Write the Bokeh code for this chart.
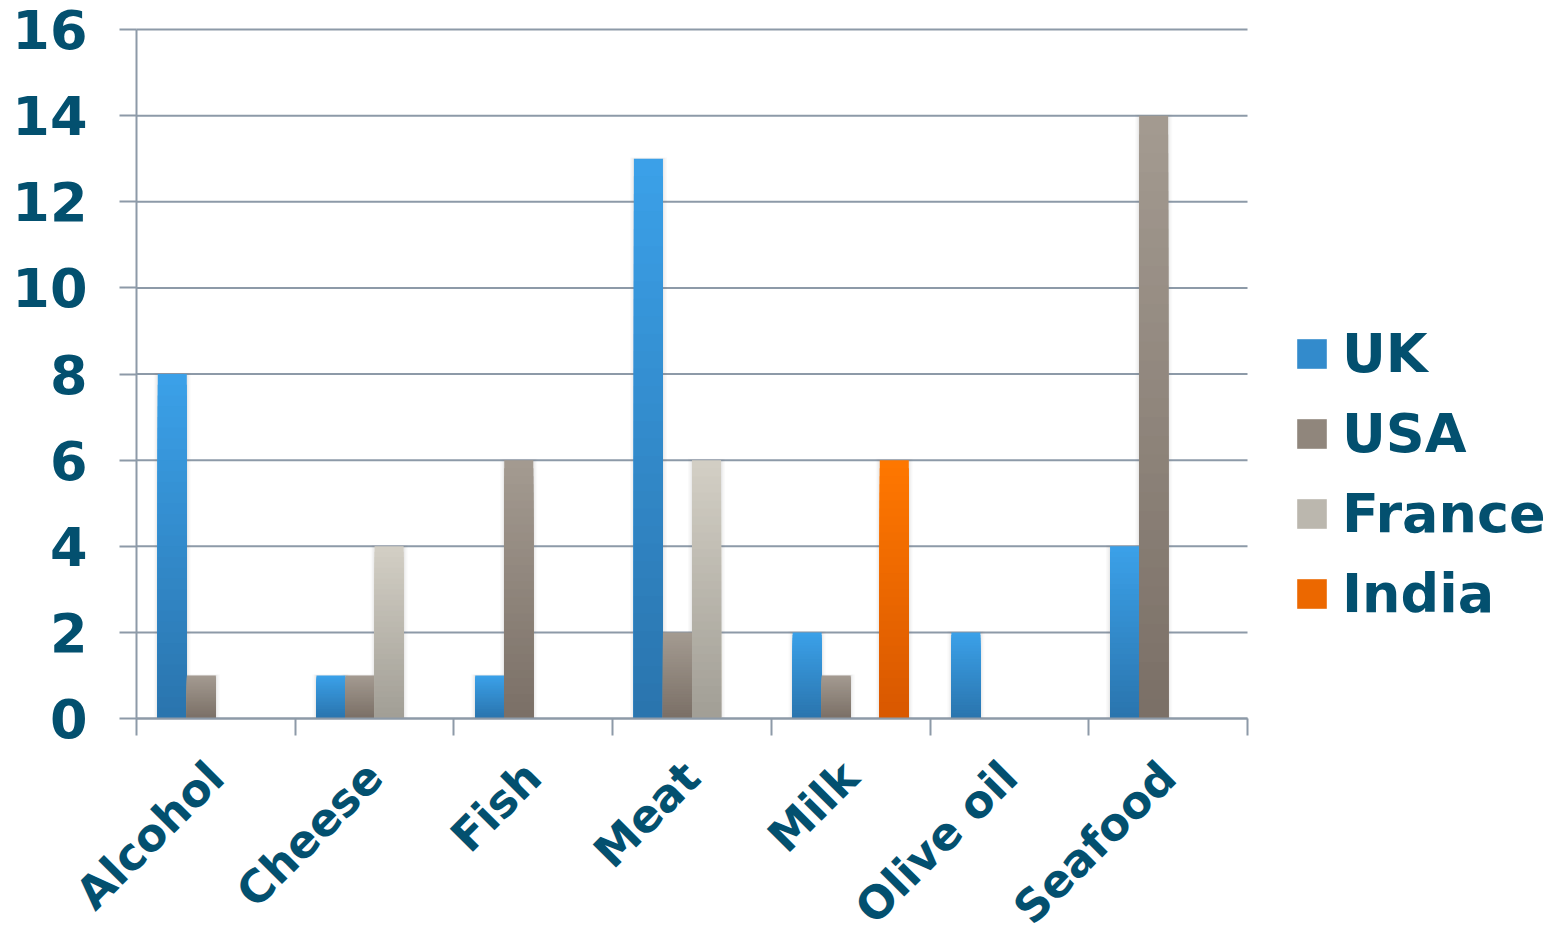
from math import pi

from bokeh.embed import file_html
from bokeh.models import (ColumnDataSource, FixedTicker, Legend, LegendItem,
                          Range1d)
from bokeh.plotting import figure
from bokeh.resources import INLINE

# --- data -------------------------------------------------------------
categories = ["Alcohol", "Cheese", "Fish", "Meat", "Milk", "Olive oil", "Seafood"]
series_names = ["UK", "USA", "France", "India"]
uk = [8, 1, 1, 13, 2, 2, 4]
usa = [1, 1, 6, 2, 1, 0, 14]
france = [0, 4, 0, 6, 0, 0, 0]
india = [0, 0, 0, 0, 6, 0, 0]
y_ticks = [0, 2, 4, 6, 8, 10, 12, 14, 16]

# --- style ------------------------------------------------------------
FONT = "DejaVu Sans"
TEXT = "#03506f"
AXIS = "#8d9aa8"
# (top colour, bottom colour) of each series' vertical gradient
GRADIENTS = [
    ("#3ba1e9", "#2a74ad"),
    ("#a49b91", "#7a6f66"),
    ("#d3cfc5", "#a19e95"),
    ("#ff7800", "#d85700"),
]
LEVELS = 32
BAR_W = 0.183

# page geometry (pixels): canvas size and the edges of the plotting area
W, H = 1560, 935
LEFT, RIGHT, TOP, ZERO = 136, 1247, 29, 718
Y_MAX = 16


def mix(c1, c2, t):
    a = [int(c1[i:i + 2], 16) for i in (1, 3, 5)]
    b = [int(c2[i:i + 2], 16) for i in (1, 3, 5)]
    return "#%02x%02x%02x" % tuple(round(a[i] + (b[i] - a[i]) * t) for i in range(3))


n_cat = len(categories)
centers = [i + 0.5 for i in range(n_cat)]

# The frame covers the whole canvas so that slanted category names, tick
# labels and the legend are never clipped; both axes are pinned at zero and
# bounded to the data area.
x_per_px = n_cat / (RIGHT - LEFT)
y_per_px = Y_MAX / (ZERO - TOP)
x_range = Range1d(-LEFT * x_per_px, (W - LEFT) * x_per_px)
y_range = Range1d(-(H - ZERO) * y_per_px, Y_MAX + TOP * y_per_px)

p = figure(
    width=W, height=H, x_range=x_range, y_range=y_range,
    output_backend="svg", toolbar_location=None,
    min_border=0,
)
p.outline_line_color = None
p.background_fill_color = "white"
p.border_fill_color = "white"
p.xgrid.visible = False
p.ygrid.visible = False

# --- horizontal grid lines across the category area ----------------------
p.segment(x0=0, x1=n_cat, y0=y_ticks, y1=y_ticks,
          line_color=AXIS, line_width=2)

# --- soft shadow behind bars ---------------------------------------------
all_values = [uk, usa, france, india]
n_series = len(series_names)
for s, values in enumerate(all_values):
    xs = [c + (s - (n_series - 1) / 2) * BAR_W for c in centers]
    for extra, alpha in ((0.05, 0.035), (0.032, 0.05), (0.016, 0.07)):
        p.vbar(x=xs, top=[v + (extra * 0.6 if v else 0) for v in values],
               bottom=0, width=BAR_W + extra,
               fill_color="#7f7f7f", fill_alpha=alpha, line_color=None)

# --- gradient bars: stacked shrinking bars, lightest (tallest) first ----
legend_items = []
for s, (name, values) in enumerate(zip(series_names, all_values)):
    top_c, bot_c = GRADIENTS[s]
    xs = [c + (s - (n_series - 1) / 2) * BAR_W for c in centers]
    swatch = None
    for k in range(LEVELS - 1, -1, -1):
        frac = (k + 1) / LEVELS
        colour = mix(bot_c, top_c, (k + 0.5) / LEVELS)
        src = ColumnDataSource(dict(x=xs, top=[v * frac for v in values]))
        r = p.vbar(x="x", top="top", bottom=0, width=BAR_W, source=src,
                   fill_color=colour, line_color=None)
        if k == LEVELS // 2:
            swatch = r
    legend_items.append(LegendItem(label=name, renderers=[swatch]))

# --- axes ---------------------------------------------------------------
yax = p.yaxis[0]
yax.fixed_location = 0
yax.bounds = (0, Y_MAX)
yax.ticker = FixedTicker(ticks=y_ticks, minor_ticks=[])
yax.axis_line_color = AXIS
yax.axis_line_width = 2
yax.major_tick_line_color = AXIS
yax.major_tick_line_width = 2
yax.major_tick_out = 17
yax.major_tick_in = 0
yax.minor_tick_line_color = None
yax.major_label_text_font = FONT
yax.major_label_text_font_style = "bold"
yax.major_label_text_font_size = "54px"
yax.major_label_text_color = TEXT
yax.major_label_standoff = 32

# category names sit at the centres, ticks mark the boundaries
xax = p.xaxis[0]
xax.fixed_location = 0
xax.bounds = (0, n_cat)
xax.ticker = FixedTicker(ticks=centers, minor_ticks=list(range(n_cat + 1)))
xax.major_label_overrides = {c: name for c, name in zip(centers, categories)}
xax.major_label_orientation = pi / 4
xax.major_label_text_font = FONT
xax.major_label_text_font_style = "bold"
xax.major_label_text_font_size = "45px"
xax.major_label_text_color = TEXT
xax.major_label_standoff = 34
xax.axis_line_color = AXIS
xax.axis_line_width = 2
xax.major_tick_line_color = None
xax.major_tick_out = 0
xax.major_tick_in = 0
xax.minor_tick_line_color = AXIS
xax.minor_tick_line_width = 2
xax.minor_tick_out = 17
xax.minor_tick_in = 0

# --- legend ---------------------------------------------------------------
legend = Legend(
    items=legend_items, location=(1293, H - 633),
    glyph_width=37, glyph_height=37, label_height=80, spacing=0,
    label_standoff=12, padding=0, margin=0,
    border_line_color=None, background_fill_alpha=0,
    label_text_font=FONT, label_text_font_style="bold",
    label_text_font_size="54px", label_text_color=TEXT,
    label_text_baseline="middle",
)
p.add_layout(legend)

open("out.html", "w").write(file_html(p, INLINE))
